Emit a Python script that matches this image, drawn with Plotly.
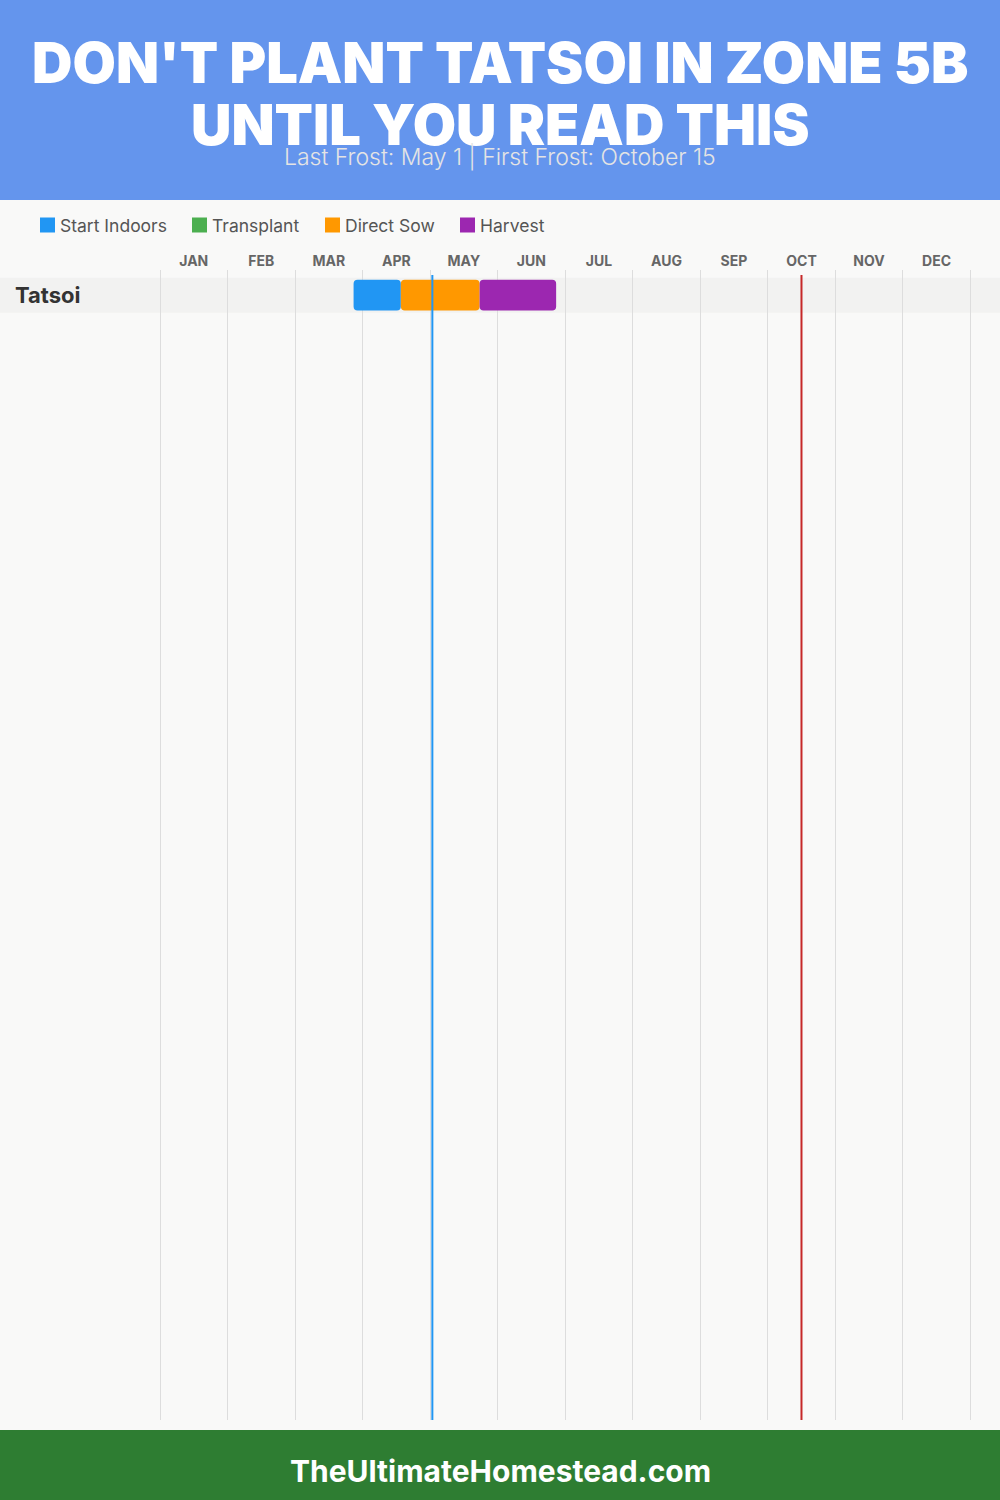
import plotly.graph_objects as go

# ---------------- data ----------------
title_lines = ["DON'T PLANT TATSOI IN ZONE 5B", "UNTIL YOU READ THIS"]
subtitle = "Last Frost: May 1 | First Frost: October 15"
footer_text = "TheUltimateHomestead.com"

months = ["JAN", "FEB", "MAR", "APR", "MAY", "JUN",
          "JUL", "AUG", "SEP", "OCT", "NOV", "DEC"]
crops = ["Tatsoi"]

phases = ["Start Indoors", "Transplant", "Direct Sow", "Harvest"]
phase_colors = ["#2196F3", "#4CAF50", "#FF9800", "#9C27B0"]
# (start, end) as "MM-DD" per crop; None = phase not used
start_indoors = [("03-26", "04-17")]
transplant = [None]
direct_sow = [("04-17", "05-22")]
harvest = [("05-22", "06-26")]

last_frost = "05-01"
first_frost = "10-15"


def mpos(md):
    m, d = md.split("-")
    return (int(m) - 1) + int(d) / 30.0


# ---------------- layout constants ----------------
W, H = 1000, 1500
plot_top, plot_bot = 270, 1420
x_left, x_right = 160, 970.3
row_px = 35
row0_center = 295.2
pad = 0.03  # tiny range padding so edge gridlines are drawn
px_per_month = (x_right - x_left) / 12


def py(px):
    return 1 - px / H


fig = go.Figure()

phase_data = [start_indoors, transplant, direct_sow, harvest]
for name, color, data in zip(phases, phase_colors, phase_data):
    ys, xs, bases = [], [], []
    for crop, rng in zip(crops, data):
        if rng is None:
            continue
        s, e = mpos(rng[0]), mpos(rng[1])
        ys.append(crop)
        xs.append(e - s)
        bases.append(s)
    fig.add_trace(go.Bar(
        y=ys, x=xs, base=bases, orientation="h", name=name,
        marker=dict(color=color, line=dict(width=0)),
        width=0.88, showlegend=False,
        hovertemplate=name + "<extra></extra>",
    ))

n_units = (plot_bot - plot_top) / row_px
top_offset = (row0_center - plot_top) / row_px

shapes = []
# header & footer
shapes.append(dict(type="rect", xref="paper", yref="paper", x0=0, x1=1,
                   y0=py(200), y1=1, fillcolor="#6495ED", line_width=0, layer="below"))
shapes.append(dict(type="rect", xref="paper", yref="paper", x0=0, x1=1,
                   y0=0, y1=py(1430), fillcolor="#2E7D32", line_width=0, layer="below"))
# row bands
for i, c in enumerate(crops):
    shapes.append(dict(type="rect", xref="paper", yref="y", x0=0, x1=1,
                       y0=i - 0.5, y1=i + 0.5, fillcolor="#F2F2F1",
                       line_width=0, layer="below"))
# frost lines
for fd, col in [(last_frost, "#2196F3"), (first_frost, "#C62828")]:
    shapes.append(dict(type="line", xref="x", yref="paper",
                       x0=mpos(fd), x1=mpos(fd), y0=py(plot_bot), y1=py(275),
                       line=dict(color=col, width=2), layer="above"))

annotations = []
annotations.append(dict(text=title_lines[0], xref="paper", yref="paper", x=0.5, y=py(63),
                        showarrow=False, xanchor="center", yanchor="middle",
                        font=dict(family="Inter", size=56, color="white", weight=900)))
annotations.append(dict(text=title_lines[1], xref="paper", yref="paper", x=0.5, y=py(125),
                        showarrow=False, xanchor="center", yanchor="middle",
                        font=dict(family="Inter", size=56, color="white", weight=900)))
annotations.append(dict(text=subtitle, xref="paper", yref="paper", x=0.5, y=py(157),
                        showarrow=False, xanchor="center", yanchor="middle",
                        font=dict(family="Inter", size=23, color="#E4E4E4", weight=300)))
annotations.append(dict(text=footer_text, xref="paper", yref="paper", x=0.5, y=py(1471),
                        showarrow=False, xanchor="center", yanchor="middle",
                        font=dict(family="Inter", size=30, color="white", weight=700)))
# crop labels
for i, c in enumerate(crops):
    annotations.append(dict(text=c, xref="paper", yref="y", x=13 / W, y=i,
                            showarrow=False, xanchor="left", yanchor="middle",
                            font=dict(family="Inter", size=22, color="#333333", weight=700)))

# manual legend
leg_x = [40, 192, 325, 460]
for name, color, lx in zip(phases, phase_colors, leg_x):
    shapes.append(dict(type="rect", xref="paper", yref="paper",
                       x0=lx / W, x1=(lx + 15) / W, y0=py(232.5), y1=py(217.5),
                       fillcolor=color, line_width=0))
    annotations.append(dict(text=name, xref="paper", yref="paper", x=(lx + 18) / W, y=py(225),
                            showarrow=False, xanchor="left", yanchor="middle",
                            font=dict(family="Inter", size=17.5, color="#555555")))

fig.update_layout(
    width=W, height=H,
    margin=dict(l=0, r=0, t=0, b=0),
    paper_bgcolor="#F9F9F8",
    plot_bgcolor="rgba(0,0,0,0)",
    barmode="overlay",
    barcornerradius=4,
    shapes=shapes,
    annotations=annotations,
    xaxis=dict(
        domain=[(x_left - pad * px_per_month) / W, (x_right + pad * px_per_month) / W],
        range=[-pad, 12 + pad], side="top",
        tickvals=[i + 0.5 for i in range(12)], ticktext=months,
        showgrid=False, zeroline=False, ticks="", showline=False,
        tickfont=dict(family="Inter", size=14, color="#666666", weight=700),
        minor=dict(tickvals=list(range(13)), showgrid=True,
                   gridcolor="#DDDDDD", gridwidth=1, ticks=""),
        fixedrange=True,
    ),
    yaxis=dict(
        domain=[py(plot_bot), py(plot_top)],
        type="category", categoryarray=crops,
        range=[n_units - top_offset, -top_offset],
        showticklabels=False, showgrid=False, zeroline=False, ticks="",
        fixedrange=True,
    ),
    hovermode="closest",
)

fig.write_html("out.html",
               config={"displayModeBar": False},
               post_script="document.body.style.margin='0px';document.body.style.padding='0px';")
